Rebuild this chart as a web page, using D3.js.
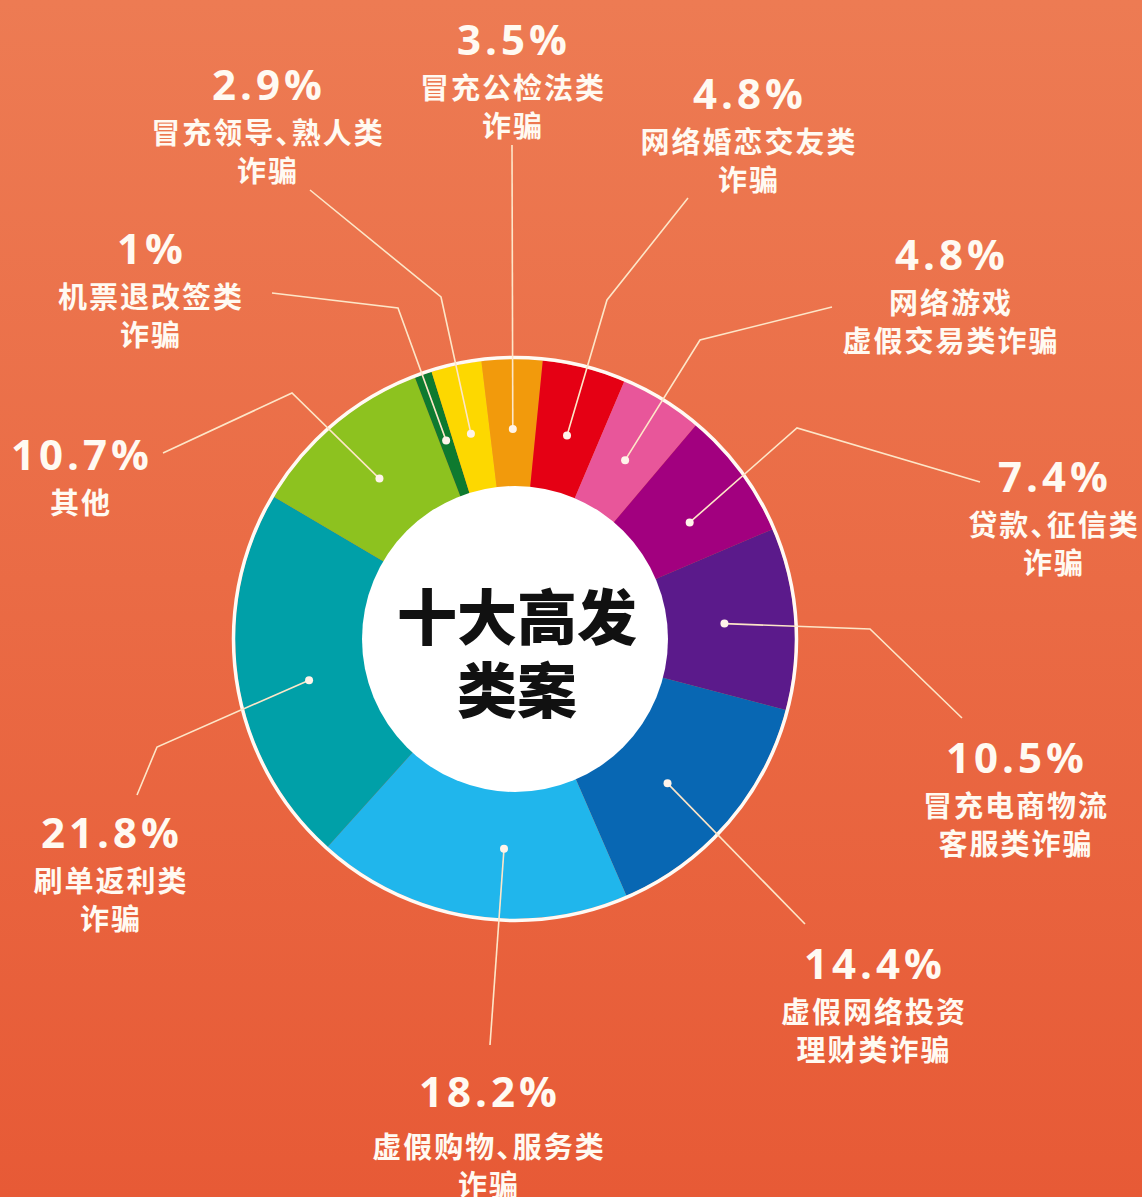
<!DOCTYPE html>
<html lang="zh">
<head>
<meta charset="UTF-8">
<title>十大高发类案</title>
<script src="https://cdn.jsdelivr.net/npm/d3@7"></script>
<style>
  html, body { margin: 0; padding: 0; }
  body { width: 1142px; height: 1197px; overflow: hidden; }
  .cn { font-feature-settings: "halt"; }
</style>
</head>
<body>
<svg id="chart" width="1142" height="1197"></svg>
<script>
// categories, clockwise from just left of 12 o'clock
const categories = ["冒充公检法类诈骗", "网络婚恋交友类诈骗", "网络游戏虚假交易类诈骗", "贷款、征信类诈骗",
  "冒充电商物流客服类诈骗", "虚假网络投资理财类诈骗", "虚假购物、服务类诈骗", "刷单返利类诈骗",
  "其他", "机票退改签类诈骗", "冒充领导、熟人类诈骗"];
const values = [3.5, 4.8, 4.8, 7.4, 10.5, 14.4, 18.2, 21.8, 10.7, 1, 2.9];
const pctLabels = ["3.5%", "4.8%", "4.8%", "7.4%", "10.5%", "14.4%", "18.2%", "21.8%", "10.7%", "1%", "2.9%"];
const labelLines = [
  ["冒充公检法类", "诈骗"],
  ["网络婚恋交友类", "诈骗"],
  ["网络游戏", "虚假交易类诈骗"],
  ["贷款、征信类", "诈骗"],
  ["冒充电商物流", "客服类诈骗"],
  ["虚假网络投资", "理财类诈骗"],
  ["虚假购物、服务类", "诈骗"],
  ["刷单返利类", "诈骗"],
  ["其他"],
  ["机票退改签类", "诈骗"],
  ["冒充领导、熟人类", "诈骗"]
];
const colors = ["#f29a0c", "#e50014", "#e8569a", "#a2007f", "#5b1a8b", "#0867b3",
  "#20b6ec", "#00a0a8", "#8dc21f", "#0e7a2f", "#fdd800"];

// label placement (text centre, leader line bends), layout only
const labelLayout = [
  { x: 512, y: 38, nudge: 0, path: [[512, 145]] },
  { x: 748, y: 92, nudge: 0, path: [[607, 300], [688, 198]] },
  { x: 950, y: 253, nudge: 0, path: [[700, 340], [832, 307]] },
  { x: 1053, y: 475, nudge: 2.7, path: [[797, 428], [980, 482]] },
  { x: 1015, y: 756, nudge: 0, path: [[870, 629], [962, 718]] },
  { x: 873, y: 962, nudge: 2.8, path: [[805, 924]] },
  { x: 488, y: 1090, nudge: -6.3, gap: 55, path: [[490, 1045]] },
  { x: 110, y: 831, nudge: -2.6, path: [[157, 747], [137, 795]] },
  { x: 80, y: 453, nudge: 0, path: [[292, 393], [163, 453]] },
  { x: 150, y: 247, nudge: 0, path: [[398, 308], [272, 293]] },
  { x: 267, y: 83, nudge: 0, path: [[441, 297], [310, 190]] }
];

const width = 1142, height = 1197;
const cx = 515, cy = 639;
const rOuter = 280, rInner = 153, rDot = 210;
const startDeg = -6.9;
const pctSpacing = 4, cnSpacing = 2;

const svg = d3.select("#chart");

// background gradient
const defs = svg.append("defs");
const grad = defs.append("linearGradient")
  .attr("id", "bg").attr("x1", 0).attr("y1", 0).attr("x2", 0).attr("y2", 1);
grad.append("stop").attr("offset", "0%").attr("stop-color", "#ed7b53");
grad.append("stop").attr("offset", "100%").attr("stop-color", "#e75a36");
svg.append("rect").attr("width", width).attr("height", height).attr("fill", "url(#bg)");

const start = startDeg * Math.PI / 180;
const pie = d3.pie().sort(null).value(d => d)
  .startAngle(start).endAngle(start + 2 * Math.PI);
const arcs = pie(values);

const arc = d3.arc().innerRadius(rInner - 2).outerRadius(rOuter);

const g = svg.append("g").attr("transform", `translate(${cx},${cy})`);

g.selectAll("path.seg")
  .data(arcs)
  .join("path")
  .attr("class", "seg")
  .attr("d", arc)
  .attr("fill", (d, i) => colors[i]);

// white rim and centre disc
g.append("circle").attr("r", rOuter + 1.5)
  .attr("fill", "none").attr("stroke", "#fffaf4").attr("stroke-width", 3.5);
g.append("circle").attr("r", rInner).attr("fill", "#ffffff");

// leader lines and dots
function dotPos(d, i) {
  const a = (d.startAngle + d.endAngle) / 2 + labelLayout[i].nudge * Math.PI / 180;
  return [cx + rDot * Math.sin(a), cy - rDot * Math.cos(a)];
}

const line = d3.line();
svg.append("g").selectAll("path")
  .data(arcs)
  .join("path")
  .attr("d", (d, i) => line([dotPos(d, i), ...labelLayout[i].path]))
  .attr("fill", "none")
  .attr("stroke", "#fde6c8")
  .attr("stroke-width", 1.6);

svg.append("g").selectAll("circle")
  .data(arcs)
  .join("circle")
  .attr("cx", (d, i) => dotPos(d, i)[0])
  .attr("cy", (d, i) => dotPos(d, i)[1])
  .attr("r", 4)
  .attr("fill", "#fff4ea");

// labels
const labels = svg.append("g").selectAll("g")
  .data(arcs)
  .join("g")
  .attr("transform", (d, i) => `translate(${labelLayout[i].x},${labelLayout[i].y})`);

labels.append("text")
  .attr("x", pctSpacing / 2)
  .attr("text-anchor", "middle")
  .attr("dominant-baseline", "central")
  .attr("font-family", "'Open Sans', 'Noto Sans', sans-serif")
  .attr("font-weight", 700)
  .attr("font-size", 42)
  .attr("letter-spacing", pctSpacing)
  .attr("fill", "#fffaf2")
  .text((d, i) => pctLabels[i]);

labels.each(function (d, i) {
  const gap = labelLayout[i].gap || 48;
  labelLines[i].forEach((t, k) => {
    d3.select(this).append("text")
      .attr("class", "cn")
      .attr("x", cnSpacing / 2)
      .attr("y", gap + k * 38)
      .attr("text-anchor", "middle")
      .attr("dominant-baseline", "central")
      .attr("font-family", "'Noto Sans CJK SC', sans-serif")
      .attr("font-weight", 700)
      .attr("font-size", 29)
      .attr("letter-spacing", cnSpacing)
      .attr("fill", "#fffaf2")
      .text(t);
  });
});

// centre title
const title = ["十大高发", "类案"];
svg.append("g").selectAll("text")
  .data(title)
  .join("text")
  .attr("x", cx + 2)
  .attr("y", (d, i) => 613 + i * 73)
  .attr("text-anchor", "middle")
  .attr("dominant-baseline", "central")
  .attr("font-family", "'Noto Sans CJK SC', sans-serif")
  .attr("font-weight", 900)
  .attr("font-size", 60)
  .attr("fill", "#111111")
  .text(d => d);
</script>
</body>
</html>
